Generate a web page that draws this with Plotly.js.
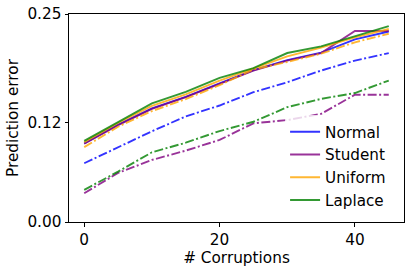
<!DOCTYPE html>
<html>
<head>
<meta charset="utf-8">
<script src="https://cdn.plot.ly/plotly-3.0.1.min.js"></script>
<style>html,body{margin:0;padding:0;background:#fff;}#chart{width:410px;height:271px;}</style>
</head>
<body>
<div id="chart"></div>
<script>
const corruptions = [0, 5, 10, 15, 20, 25, 30, 35, 40, 45];

const normalSolid   = [0.0945, 0.117, 0.1365, 0.1505, 0.1665, 0.1825, 0.1945, 0.2035, 0.2195, 0.229];
const studentSolid  = [0.094, 0.1165, 0.136, 0.150, 0.166, 0.182, 0.194, 0.203, 0.2295, 0.2295];
const uniformSolid  = [0.096, 0.119, 0.1395, 0.1535, 0.170, 0.1845, 0.199, 0.2095, 0.222, 0.232];
const laplaceSolid  = [0.0975, 0.1195, 0.1425, 0.1565, 0.1732, 0.185, 0.2031, 0.211, 0.2235, 0.2355];

const normalDash    = [0.0706, 0.090, 0.109, 0.127, 0.140, 0.156, 0.168, 0.182, 0.194, 0.203];
const studentDash   = [0.0345, 0.059, 0.0746, 0.0858, 0.0986, 0.1186, 0.1225, 0.130, 0.153, 0.153];
const uniformDash   = [0.090, 0.1145, 0.1333, 0.1477, 0.1644, 0.1835, 0.1923, 0.2024, 0.216, 0.2263];
const laplaceDash   = [0.0387, 0.0605, 0.0838, 0.0953, 0.1093, 0.1205, 0.138, 0.148, 0.155, 0.170];

const names = ['Normal', 'Student', 'Uniform', 'Laplace'];
const colors = ['rgba(0,0,255,0.8)', 'rgba(128,0,128,0.8)', 'rgba(255,165,0,0.8)', 'rgba(0,128,0,0.8)'];
const solids = [normalSolid, studentSolid, uniformSolid, laplaceSolid];
const dashes = [normalDash, studentDash, uniformDash, laplaceDash];

const yTicks = [0, 0.12, 0.25];
const yTickText = ['0.00', '0.12', '0.25'];
const xTicks = [0, 20, 40];

const traces = [];
for (let i = 0; i < 4; i++) {
  traces.push({
    x: corruptions, y: solids[i], type: 'scatter', mode: 'lines', name: names[i],
    line: {color: colors[i], width: 1.9}, showlegend: true
  });
  traces.push({
    x: corruptions, y: dashes[i], type: 'scatter', mode: 'lines', name: names[i] + ' (dash)',
    line: {color: colors[i], width: 1.9, dash: '9px,2.5px,2px,2.5px'}, showlegend: false
  });
}

const font = {family: 'DejaVu Sans', size: 15.3, color: '#000'};
const legendFont = {family: 'DejaVu Sans', size: 15.2, color: '#000'};

const layout = {
  width: 410, height: 271,
  margin: {l: 69, r: 6, t: 13.5, b: 48.5},
  paper_bgcolor: '#fff', plot_bgcolor: '#fff',
  font: font,
  showlegend: true,
  legend: {
    x: 0.645, y: 0.513, xanchor: 'left', yanchor: 'top',
    bgcolor: 'rgba(255,255,255,0.8)', borderwidth: 0,
    font: legendFont, tracegroupgap: 0
  },
  xaxis: {
    range: [-2.25, 47.25], tickvals: xTicks, ticktext: xTicks.map(String),
    ticks: 'outside', ticklen: 3.5, tickwidth: 1, tickcolor: '#000',
    showline: true, mirror: true, linecolor: '#000', linewidth: 1,
    showgrid: false, zeroline: false, tickfont: font,
    title: {text: '# Corruptions', font: font, standoff: 4}
  },
  yaxis: {
    range: [0, 0.25], tickvals: yTicks, ticktext: yTickText,
    ticks: 'outside', ticklen: 3.5, tickwidth: 1, tickcolor: '#000',
    showline: true, mirror: true, linecolor: '#000', linewidth: 1,
    showgrid: false, zeroline: false, tickfont: font,
    title: {text: 'Prediction error', font: font, standoff: 5}
  }
};

Plotly.newPlot('chart', traces, layout, {staticPlot: true, displayModeBar: false});
</script>
</body>
</html>
